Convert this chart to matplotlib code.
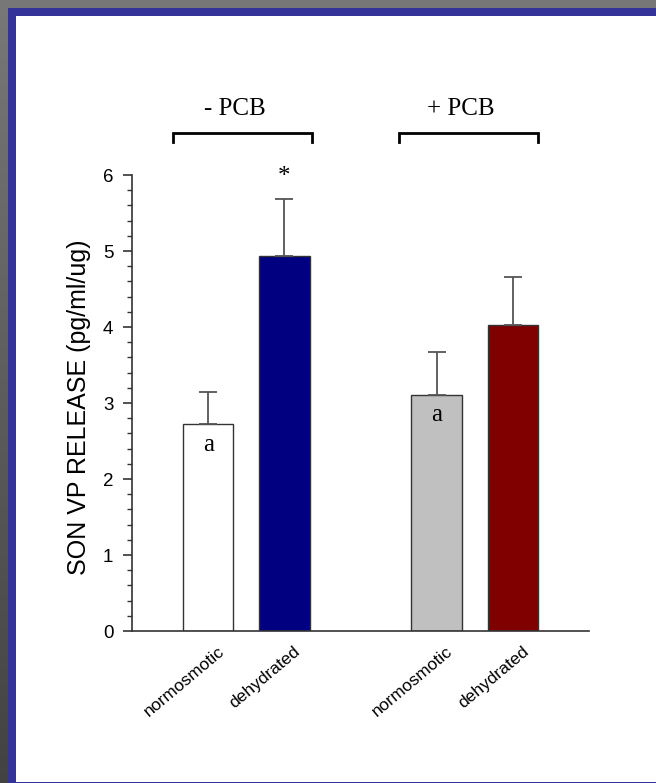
import matplotlib.pyplot as plt
import matplotlib.transforms as mtransforms
import numpy as np
from matplotlib.ticker import MultipleLocator

# Group / condition layout
conditions = ["normosmotic", "dehydrated", "normosmotic", "dehydrated"]
positions = [1, 2, 4, 5]
release = [2.72, 4.94, 3.11, 4.03]
sem = [0.42, 0.75, 0.56, 0.63]
bar_colors = ["#ffffff", "#000080", "#c0c0c0", "#800000"]
marks = ["a", "*", "a", ""]
groups = ["- PCB", "+ PCB"]
group_spans = [(0.54, 2.36), (3.50, 5.33)]
group_label_x = [1.35, 4.32]

W, H = 656, 783
fig = plt.figure(figsize=(W / 100, H / 100), dpi=100)
fig.patch.set_facecolor("white")

# slide-style frame: grey gradient strip, then blue band on the left/top
bg = fig.add_axes([0, 0, 1, 1], zorder=-10)
bg.axis("off")
grad = np.linspace(0.47, 0.26, 256).reshape(-1, 1)
bg.imshow(np.dstack([grad] * 3), extent=[0, 8, H, 0], aspect="auto")
bg.add_patch(plt.Rectangle((0, 0), W, 7.5, color="#777777", lw=0))
bg.add_patch(plt.Rectangle((8, 7.5), W - 8, 8, color="#333399", lw=0))
bg.add_patch(plt.Rectangle((8, 7.5), 8, H, color="#333399", lw=0))
bg.add_patch(plt.Rectangle((8, H - 1.5), W - 8, 1.5, color="#333399", lw=0))
bg.set_xlim(0, W)
bg.set_ylim(H, 0)

ax = fig.add_axes([132 / W, 152 / H, 457 / W, 456 / H])
ax.set_facecolor("none")

ax.bar(positions, release, width=0.665, color=bar_colors,
       edgecolor="#333333", linewidth=1.0, zorder=2)
ax.errorbar(positions, release, yerr=[[0] * 4, sem], fmt="none",
            ecolor="#555555", elinewidth=1.3, capsize=6.5, capthick=1.3,
            zorder=3)

for x, y, e, m in zip(positions, release, sem, marks):
    if m == "a":
        ax.text(x, y - 0.27, m, ha="center", va="center",
                family="Liberation Serif", fontsize=18)
    elif m == "*":
        ax.text(x, y + e + 0.28, m, ha="center", va="center",
                family="Liberation Serif", fontsize=18)

ax.set_xlim(0, 6)
ax.set_ylim(0, 6)
ax.spines["top"].set_visible(False)
ax.spines["right"].set_visible(False)
for s in ("left", "bottom"):
    ax.spines[s].set_color("#333333")
    ax.spines[s].set_linewidth(1.2)

ax.yaxis.set_major_locator(MultipleLocator(1))
ax.yaxis.set_minor_locator(MultipleLocator(0.2))
ax.tick_params(axis="y", which="major", length=6.5, width=1.2,
               color="#333333", pad=7, labelsize=13.5)
ax.tick_params(axis="y", which="minor", length=3.5, width=1.0,
               color="#333333")
for lab in ax.get_yticklabels():
    lab.set_family("Liberation Sans")

ax.set_xticks(positions)
ax.set_xticklabels(conditions, rotation=40, ha="right",
                   rotation_mode="anchor", family="Liberation Sans",
                   fontsize=12.5)
ax.tick_params(axis="x", length=0, pad=9)
shift = mtransforms.ScaledTranslation(9 / 100, 0, fig.dpi_scale_trans)
for lab in ax.get_xticklabels():
    lab.set_transform(lab.get_transform() + shift)

ax.set_ylabel("SON VP RELEASE (pg/ml/ug)", family="Liberation Sans",
              fontsize=18)
ax.yaxis.set_label_coords(-0.09, 0.49)

# group brackets above the bars
for (x0, x1), lx, g in zip(group_spans, group_label_x, groups):
    ax.plot([x0, x0, x1, x1], [6.43, 6.55, 6.55, 6.43], color="black",
            lw=2, clip_on=False, solid_joinstyle="miter")
    ax.text(lx, 6.79, g, ha="center", va="baseline",
            family="Liberation Serif", fontsize=18)

fig.savefig("out.png", dpi=100)
